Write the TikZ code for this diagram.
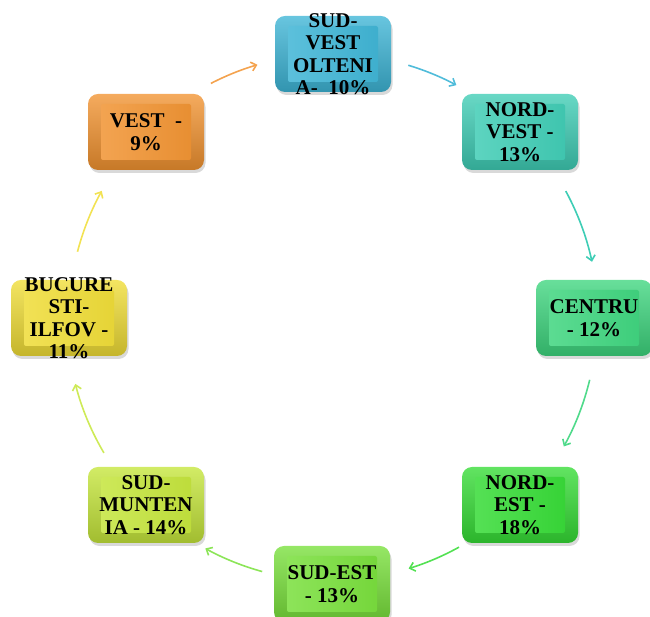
\documentclass[tikz,border=0pt]{standalone}
\usepackage{fontspec}
\setmainfont{Liberation Serif}
\usetikzlibrary{arrows.meta,shadows}
\definecolor{c1}{HTML}{3DB5D6}
\definecolor{c2}{HTML}{3ECDB5}
\definecolor{c3}{HTML}{3DD67E}
\definecolor{c4}{HTML}{35DC35}
\definecolor{c5}{HTML}{78E03A}
\definecolor{c6}{HTML}{C5E63A}
\definecolor{c7}{HTML}{F0DD35}
\definecolor{c8}{HTML}{F29330}
\tikzset{
  bev/.style={rectangle, rounded corners=10pt, minimum width=116pt, minimum height=76pt,
    inner sep=0pt, top color=#1!78!white, bottom color=#1!82!black,
    drop shadow={shadow xshift=1.5pt, shadow yshift=-3pt, opacity=0.3},
    path picture={\shade[left color=#1!82!white, right color=#1!95!black, rounded corners=2pt]
      ([shift={(13pt,10pt)}]path picture bounding box.south west) rectangle
      ([shift={(-13pt,-10pt)}]path picture bounding box.north east);}},
  lbl/.style={align=center, inner sep=0pt, text=black,
    font=\bfseries\fontsize{21}{22.5}\selectfont},
  flow/.style={draw=#1, line width=1.6pt, -{Straight Barb[length=5pt,width=9pt]}}
}
\begin{document}
\begin{tikzpicture}[x=1pt,y=1pt]
\path[use as bounding box] (0,0) rectangle (650,617);
\coordinate (O) at (332,299);
% arrows
\draw[flow=c1!90!white] ([shift={(73.2:264pt)}]O) arc[start angle=73.2, end angle=61.9, radius=264pt];
\draw[flow=c2] ([shift={(28.5:266pt)}]O) arc[start angle=28.5, end angle=12.2, radius=266pt];
\draw[flow=c3!90!white] ([shift={(-13.5:265pt)}]O) arc[start angle=-13.5, end angle=-29, radius=265pt];
\draw[flow=c4!85!white] ([shift={(-61:262pt)}]O) arc[start angle=-61, end angle=-73, radius=262pt];
\draw[flow=c5!85!white] ([shift={(-105.4:263pt)}]O) arc[start angle=-105.4, end angle=-118.8, radius=263pt];
\draw[flow=c6!85!white] ([shift={(-149.4:265pt)}]O) arc[start angle=-149.4, end angle=-165.6, radius=265pt];
\draw[flow=c7!85!white] ([shift={(165.4:263pt)}]O) arc[start angle=165.4, end angle=151.1, radius=263pt];
\draw[flow=c8!85!white] ([shift={(117.3:264pt)}]O) arc[start angle=117.3, end angle=106.4, radius=264pt];
% boxes
\node[bev=c1] (b1) at (333,563) {};
\node[bev=c2] (b2) at (520,485) {};
\node[bev=c3] (b3) at (594,299) {};
\node[bev=c4] (b4) at (520,112) {};
\node[bev=c5] (b5) at (332,33) {};
\node[bev=c6] (b6) at (146,112) {};
\node[bev=c7] (b7) at (69,299) {};
\node[bev=c8] (b8) at (146,485) {};
% labels
\node[lbl] (t1) at (b1) {SUD-\\VEST\\OLTENI\\A-\ \ 10\%};
\node[lbl] (t2) at (b2) {NORD-\\VEST -\\13\%};
\node[lbl] (t3) at (b3) {CENTRU\\- 12\%};
\node[lbl] (t4) at (b4) {NORD-\\EST -\\18\%};
\node[lbl] (t5) at (b5) {SUD-EST\\- 13\%};
\node[lbl] (t6) at (b6) {SUD-\\MUNTEN\\IA - 14\%};
\node[lbl] (t7) at (b7) {BUCURE\\STI-\\ILFOV -\\11\%};
\node[lbl] (t8) at (b8) {VEST\ \ -\\9\%};
\end{tikzpicture}
\end{document}
